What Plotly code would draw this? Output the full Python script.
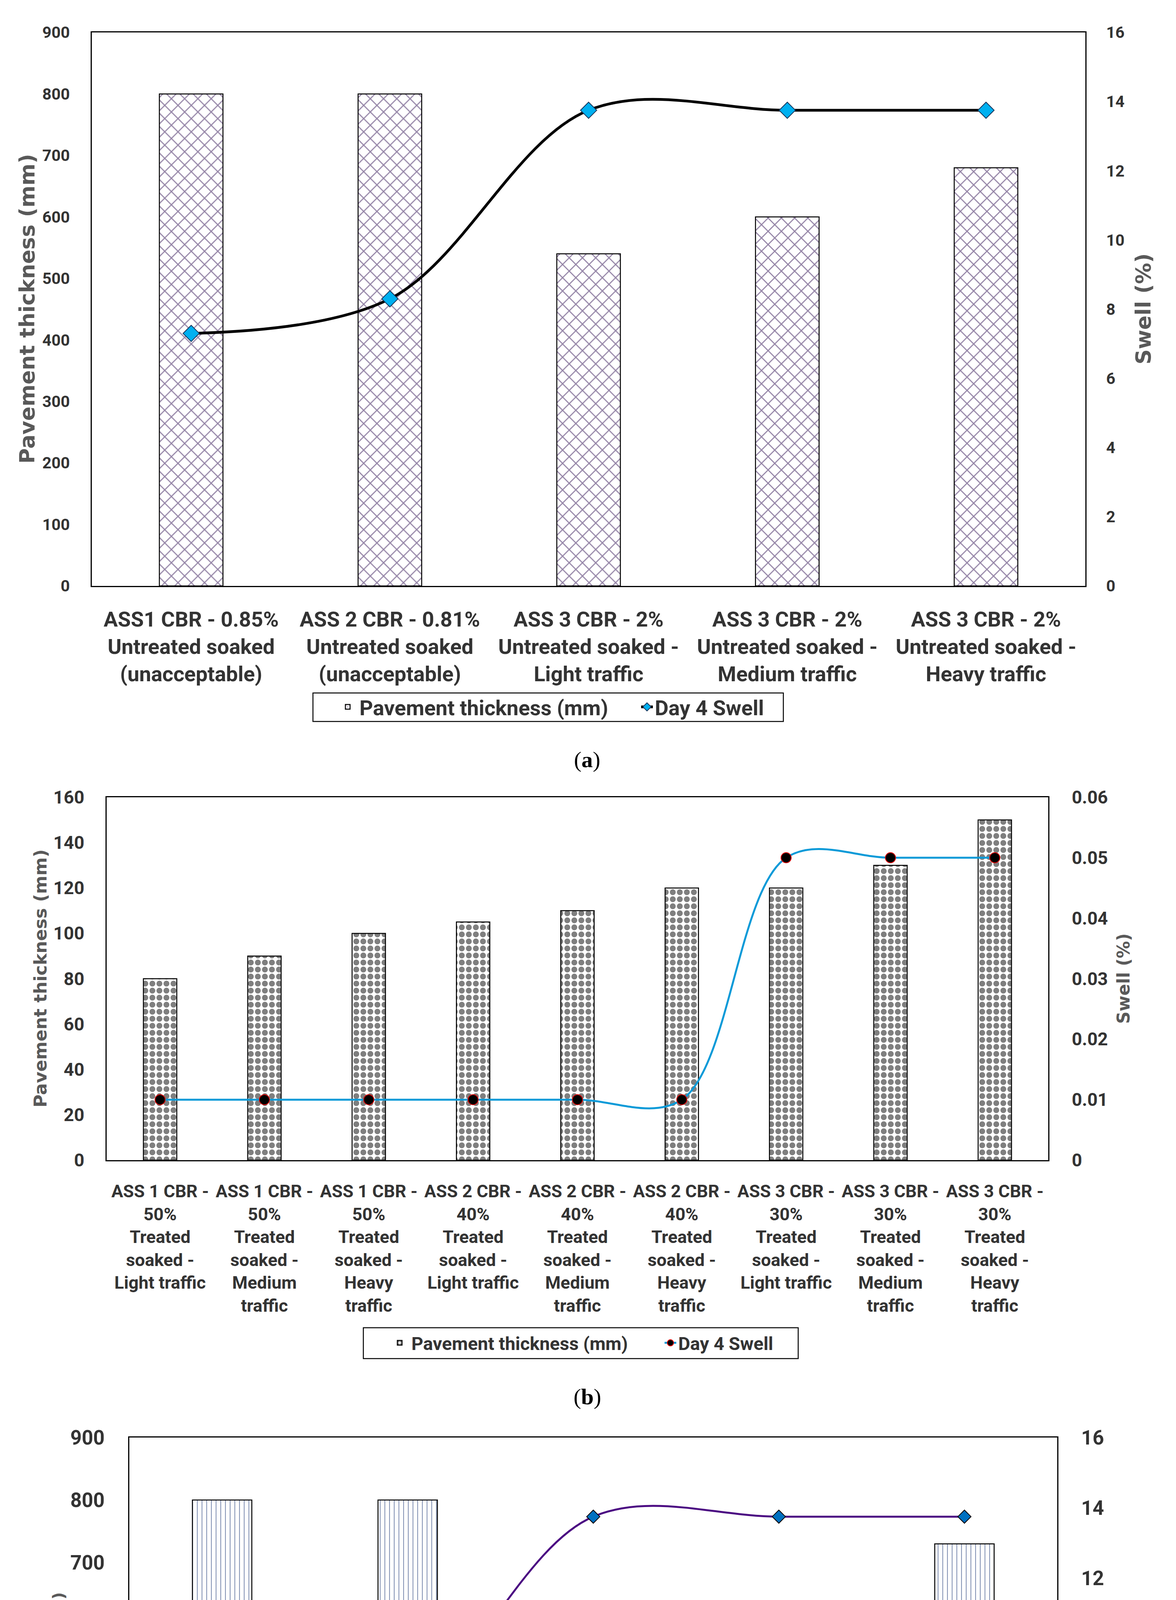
import plotly.graph_objects as go

W, H = 3010, 5662

# ---------------- data ----------------
categories_a = [
    "ASS1 CBR - 0.85%<br>Untreated soaked<br>(unacceptable)",
    "ASS 2 CBR - 0.81%<br>Untreated soaked<br>(unacceptable)",
    "ASS 3 CBR - 2%<br>Untreated soaked -<br>Light traffic",
    "ASS 3 CBR - 2%<br>Untreated soaked -<br>Medium traffic",
    "ASS 3 CBR - 2%<br>Untreated soaked -<br>Heavy traffic",
]
thickness_a = [800, 800, 540, 600, 680]
swell_a = [7.3, 8.3, 13.75, 13.75, 13.75]

categories_b = [
    "ASS 1 CBR -<br>50%<br>Treated<br>soaked -<br>Light traffic",
    "ASS 1 CBR -<br>50%<br>Treated<br>soaked -<br>Medium<br>traffic",
    "ASS 1 CBR -<br>50%<br>Treated<br>soaked -<br>Heavy<br>traffic",
    "ASS 2 CBR -<br>40%<br>Treated<br>soaked -<br>Light traffic",
    "ASS 2 CBR -<br>40%<br>Treated<br>soaked -<br>Medium<br>traffic",
    "ASS 2 CBR -<br>40%<br>Treated<br>soaked -<br>Heavy<br>traffic",
    "ASS 3 CBR -<br>30%<br>Treated<br>soaked -<br>Light traffic",
    "ASS 3 CBR -<br>30%<br>Treated<br>soaked -<br>Medium<br>traffic",
    "ASS 3 CBR -<br>30%<br>Treated<br>soaked -<br>Heavy<br>traffic",
]
thickness_b = [80, 90, 100, 105, 110, 120, 120, 130, 150]
swell_b = [0.01, 0.01, 0.01, 0.01, 0.01, 0.01, 0.05, 0.05, 0.05]

categories_c = list(categories_a)
depth_c = [800, 800, 430, 480, 730]
swell_c = [7.3, 8.3, 13.75, 13.75, 13.75]

# ---------------- helpers ----------------
def fx(px):
    return px / W

def fy(py):
    return 1 - py / H

TICK_FAMILY = "Roboto, DejaVu Sans Condensed, sans-serif"
TITLE_FAMILY = "DejaVu Sans, Verdana, sans-serif"
TICK_COLOR = "#333333"
TITLE_COLOR = "#595959"

def tickfont(size):
    return dict(family=TICK_FAMILY, size=size, color=TICK_COLOR, weight="bold")

fig = go.Figure()

# ---------- chart (a) ----------
fig.add_trace(go.Bar(
    x=categories_a, y=thickness_a, name="Pavement thickness (mm)",
    xaxis="x", yaxis="y", legend="legend",
    marker=dict(color="white", line=dict(color="black", width=2.5),
                pattern=dict(shape="x", fgcolor="#2b0b4f", bgcolor="white",
                             size=24, solidity=0.22)),
))
fig.add_trace(go.Scatter(
    x=categories_a, y=swell_a, name="Day 4 Swell",
    xaxis="x", yaxis="y2", legend="legend2", mode="lines+markers",
    line=dict(color="black", width=7, shape="spline", smoothing=1),
    marker=dict(symbol="diamond", size=32, color="#00B0F0",
                line=dict(color="#16365C", width=2)),
))

# ---------- chart (b) ----------
fig.add_trace(go.Bar(
    x=categories_b, y=thickness_b, name="Pavement thickness (mm)",
    xaxis="x2", yaxis="y3", legend="legend3",
    marker=dict(color="white", line=dict(color="black", width=2.5),
                pattern=dict(shape=".", fgcolor="black", bgcolor="white",
                             size=18, solidity=0.55)),
))
fig.add_trace(go.Scatter(
    x=categories_b, y=swell_b, name="Day 4 Swell",
    xaxis="x2", yaxis="y4", legend="legend4", mode="lines+markers",
    line=dict(color="#0A9AD8", width=5, shape="spline", smoothing=1),
    marker=dict(symbol="circle", size=26, color="black",
                line=dict(color="#E00000", width=2)),
))

# ---------- chart (c) ----------
fig.add_trace(go.Bar(
    x=categories_c, y=depth_c, name="Depth of Construction",
    xaxis="x3", yaxis="y5", legend="legend5",
    marker=dict(color="white", line=dict(color="black", width=2.5),
                pattern=dict(shape="|", fgcolor="#0B2A6B", bgcolor="white",
                             size=12, solidity=0.18)),
))
fig.add_trace(go.Scatter(
    x=categories_c, y=swell_c, name="Day 4 Swell",
    xaxis="x3", yaxis="y6", legend="legend6", mode="lines+markers",
    line=dict(color="#4B0A82", width=5, shape="spline", smoothing=1),
    marker=dict(symbol="diamond", size=26, color="#0070C0",
                line=dict(color="black", width=2)),
))

# ---------- axes ----------
def xax(domain, anchor, fsize, standoff):
    return dict(domain=domain, anchor=anchor, type="category",
                showline=True, linecolor="black", linewidth=3, mirror=True,
                showgrid=False, zeroline=False, ticks="", tickangle=0,
                automargin=False,
                tickfont=tickfont(fsize), ticklabelstandoff=standoff,
                fixedrange=True)

def yax(domain, anchor, rng, dtick, fsize, standoff, side="left", overlay=None):
    d = dict(anchor=anchor, range=rng, dtick=dtick, tick0=0,
             showline=True, linecolor="black", linewidth=3, mirror=(overlay is None),
             showgrid=False, zeroline=False, ticks="", side=side, automargin=False,
             tickfont=tickfont(fsize), ticklabelstandoff=standoff, fixedrange=True)
    if overlay:
        d["overlaying"] = overlay
    else:
        d["domain"] = domain
    return d

xa = [fx(227), fx(2770)]
ya = [fy(1492), fy(75)]
xb = [fx(265), fx(2675)]
yb = [fy(2962), fy(2033)]
xc = [fx(323), fx(2698)]
yc = [fy(5113), fy(3672)]

layout = dict(
    width=W, height=H,
    margin=dict(l=0, r=0, t=0, b=0, autoexpand=False),
    paper_bgcolor="white", plot_bgcolor="rgba(0,0,0,0)",
    bargap=0.68,
    showlegend=True,
    xaxis=xax(xa, "y", 54, 36),
    yaxis=yax(ya, "x", [0, 900], 100, 41, 45),
    yaxis2=yax(None, "x", [0, 16], 2, 41, 42, side="right", overlay="y"),
    xaxis2=xax(xb, "y3", 45, 38),
    yaxis3=yax(yb, "x2", [0, 160], 20, 46, 45),
    yaxis4=yax(None, "x2", [0, 0.06], 0.01, 46, 48, side="right", overlay="y3"),
    xaxis3=xax(xc, "y5", 55, 29),
    yaxis5=yax(yc, "x3", [0, 900], 100, 51, 50),
    yaxis6=yax(None, "x3", [0, 16], 2, 51, 48, side="right", overlay="y5"),
)

def leg(left_px, ymid_px, fsize, itemwidth):
    return dict(x=fx(left_px), y=fy(ymid_px), xanchor="left", yanchor="middle",
                xref="paper", yref="paper",
                orientation="h", borderwidth=0,
                bgcolor="rgba(0,0,0,0)", font=dict(family=TICK_FAMILY, size=fsize,
                                                   color=TICK_COLOR, weight="bold"),
                itemwidth=itemwidth, tracegroupgap=0)

# chart (a) legend items
layout["legend"] = leg(852, 1802, 54, 50)
layout["legend2"] = leg(1628, 1802, 54, 30)
# chart (b)
layout["legend3"] = leg(985, 3430, 47, 50)
layout["legend4"] = leg(1688, 3430, 47, 30)
# chart (c)
layout["legend5"] = leg(1009, 5425, 54, 50)
layout["legend6"] = leg(1692, 5425, 54, 30)

# legend frames
frames = [(793, 1766, 1997, 1839), (922, 3391, 2035, 3470), (922, 5382, 2070, 5467)]
layout["shapes"] = [
    dict(type="rect", xref="paper", yref="paper",
         x0=fx(x0), x1=fx(x1), y0=fy(y1), y1=fy(y0),
         line=dict(color="black", width=2.5), fillcolor="rgba(0,0,0,0)",
         layer="above")
    for (x0, y0, x1, y1) in frames
]

fig.update_layout(**layout)

# ---------- axis titles & captions ----------
anns = [
    (61, 783, "Pavement thickness (mm)", 54),
    (2918, 783, "Swell (%)", 54),
    (96, 2497, "Pavement thickness (mm)", 45),
    (2868, 2497, "Swell (%)", 44),
    (142, 4392, "Depth of Construction (mm)", 41),
    (2843, 4392, "Swell (%)", 41),
]
for xp, yp, txt, sz in anns:
    fig.add_annotation(x=fx(xp), y=fy(yp), xref="paper", yref="paper",
                       text=txt, textangle=-90, showarrow=False,
                       xanchor="center", yanchor="middle",
                       font=dict(family=TITLE_FAMILY, size=sz, color=TITLE_COLOR,
                                 weight="bold"))

for xp, yp, letter in [(1495, 1936, "a"), (1495, 3567, "b"), (1495, 5569, "c")]:
    fig.add_annotation(x=fx(xp), y=fy(yp), xref="paper", yref="paper",
                       text="(<b>%s</b>)" % letter, showarrow=False,
                       xanchor="center", yanchor="middle",
                       font=dict(family="Liberation Serif, DejaVu Serif, serif",
                                 size=58, color="black"))

fig.write_html("out.html")
